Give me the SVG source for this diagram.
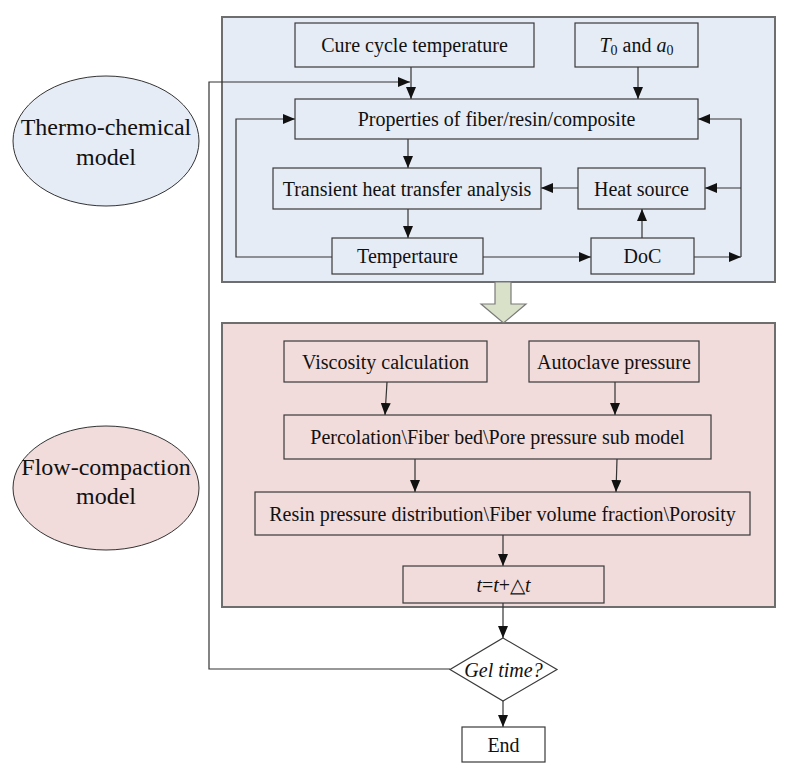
<svg xmlns="http://www.w3.org/2000/svg" width="794" height="778" viewBox="0 0 794 778">
<defs>
<style>
.t{font-family:"Liberation Serif","Times New Roman",serif;font-size:20px;fill:#111;text-anchor:middle}
.big{font-size:24px}
.box{stroke:#3a3a3a;stroke-width:1.2}
.bb{fill:#e6ecf6}
.pk{fill:#f1dcdb}
.wh{fill:#ffffff}
.ln{fill:none;stroke:#333;stroke-width:1.2}
.panel{stroke:#6e6e6e;stroke-width:2}
</style>
<marker id="ah" viewBox="0 0 12 10" refX="12" refY="5" markerWidth="12" markerHeight="10" markerUnits="userSpaceOnUse" orient="auto">
<path d="M0,0 L12,5 L0,10 Z" fill="#111"/>
</marker>
</defs>
<rect width="794" height="778" fill="#ffffff"/>

<g id="panel-thermo">
<rect x="222" y="17" width="553" height="265" class="bb panel"/>
</g>
<g id="panel-flow">
<rect x="222" y="323" width="553" height="284" class="pk panel"/>
</g>
<g id="block-arrow">
<path d="M495,282 L511,282 L511,304 L526,304 L503.5,323 L481,304 L495,304 Z" fill="#d9e1c9" stroke="#7a7a7a" stroke-width="1.2"/>
</g>

<g id="ellipse-thermo">
<ellipse cx="106" cy="141" rx="93" ry="65" class="bb" stroke="#333" stroke-width="1"/>
<text x="106" y="135" class="t big">Thermo-chemical</text>
<text x="106" y="165" class="t big">model</text>
</g>
<g id="ellipse-flow">
<ellipse cx="106" cy="488" rx="93" ry="62" class="pk" stroke="#333" stroke-width="1"/>
<text x="106" y="475" class="t big">Flow-compaction</text>
<text x="106" y="504" class="t big">model</text>
</g>

<g id="connectors">
<path class="ln" d="M411,67 V99" marker-end="url(#ah)"/>
<path class="ln" d="M638,67 V99" marker-end="url(#ah)"/>
<path class="ln" d="M450,669 H209 V82 H410" marker-end="url(#ah)"/>
<path class="ln" d="M408,139 V168" marker-end="url(#ah)"/>
<path class="ln" d="M408,209 V238" marker-end="url(#ah)"/>
<path class="ln" d="M483,257 H591" marker-end="url(#ah)"/>
<path class="ln" d="M332,257 H236 V119 H295" marker-end="url(#ah)"/>
<path class="ln" d="M694,257 H741" marker-end="url(#ah)"/>
<path class="ln" d="M741,257 V119 H698" marker-end="url(#ah)"/>
<path class="ln" d="M741,188 H705" marker-end="url(#ah)"/>
<path class="ln" d="M578,188 H541" marker-end="url(#ah)"/>
<path class="ln" d="M642,238 V209" marker-end="url(#ah)"/>
<path class="ln" d="M387,382 L385,415" marker-end="url(#ah)"/>
<path class="ln" d="M615,382 V415" marker-end="url(#ah)"/>
<path class="ln" d="M415,459 V492" marker-end="url(#ah)"/>
<path class="ln" d="M617,459 L616,492" marker-end="url(#ah)"/>
<path class="ln" d="M503,535 V566" marker-end="url(#ah)"/>
<path class="ln" d="M503,603 V638" marker-end="url(#ah)"/>
<path class="ln" d="M503,701 V727" marker-end="url(#ah)"/>
</g>

<g id="cure">
<rect x="295" y="23" width="239" height="44" class="box bb"/>
<text x="414.5" y="52" class="t">Cure cycle temperature</text>
</g>
<g id="t0a0">
<rect x="575" y="23" width="123" height="44" class="box bb"/>
<text x="636.5" y="52" class="t"><tspan font-style="italic">T</tspan><tspan font-size="14" dy="3">0</tspan><tspan dy="-3"> and </tspan><tspan font-style="italic">a</tspan><tspan font-size="14" dy="3">0</tspan></text>
</g>
<g id="properties">
<rect x="295" y="99" width="403" height="40" class="box bb"/>
<text x="496.5" y="126" class="t">Properties of fiber/resin/composite</text>
</g>
<g id="transient">
<rect x="273" y="168" width="268" height="41" class="box bb"/>
<text x="407" y="195.5" class="t">Transient heat transfer analysis</text>
</g>
<g id="heat-source">
<rect x="578" y="168" width="127" height="41" class="box bb"/>
<text x="641.5" y="195.5" class="t">Heat source</text>
</g>
<g id="temperature">
<rect x="332" y="238" width="151" height="36" class="box bb"/>
<text x="407.5" y="263" class="t">Tempertaure</text>
</g>
<g id="doc">
<rect x="591" y="238" width="103" height="36" class="box bb"/>
<text x="642.5" y="263" class="t">DoC</text>
</g>

<g id="viscosity">
<rect x="284" y="341" width="203" height="41" class="box pk"/>
<text x="385.5" y="368.5" class="t">Viscosity calculation</text>
</g>
<g id="autoclave">
<rect x="529" y="341" width="170" height="41" class="box pk"/>
<text x="614" y="368.5" class="t">Autoclave pressure</text>
</g>
<g id="percolation">
<rect x="284" y="415" width="427" height="44" class="box pk"/>
<text x="497.5" y="444" class="t">Percolation\Fiber bed\Pore pressure sub model</text>
</g>
<g id="resin">
<rect x="255" y="492" width="495" height="43" class="box pk"/>
<text x="502.5" y="520.5" class="t">Resin pressure distribution\Fiber volume fraction\Porosity</text>
</g>
<g id="timestep">
<rect x="403" y="566" width="201" height="37" class="box pk" stroke="#111"/>
<text x="503.5" y="591.5" class="t"><tspan font-style="italic">t</tspan>=<tspan font-style="italic">t</tspan>+△<tspan font-style="italic">t</tspan></text>
</g>
<g id="gel">
<path d="M503,638 L557,669.5 L503,701 L450,669.5 Z" class="box wh"/>
<text x="503.5" y="676.5" class="t" font-style="italic">Gel time?</text>
</g>
<g id="end">
<rect x="462" y="727" width="83" height="35" class="box wh"/>
<text x="503.5" y="751.5" class="t">End</text>
</g>
</svg>
